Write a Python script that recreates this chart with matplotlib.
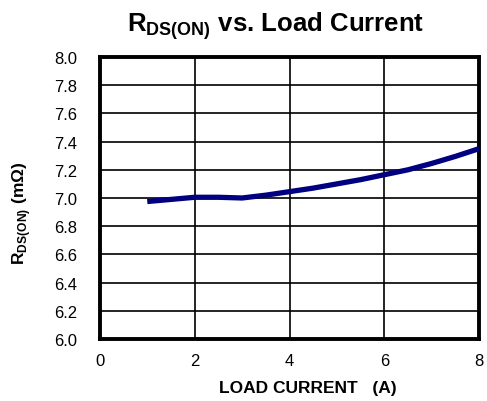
import matplotlib
matplotlib.use("Agg")
import matplotlib.pyplot as plt

plt.rcParams['font.family'] = ['Liberation Sans', 'DejaVu Sans']
plt.rcParams['mathtext.fontset'] = 'custom'
plt.rcParams['mathtext.rm'] = 'Liberation Sans'
plt.rcParams['mathtext.bf'] = 'Liberation Sans:bold'

# data
load_current = [1, 1.5, 2, 2.5, 3, 3.5, 4, 4.5, 5, 5.5, 6, 6.5, 7, 7.5, 8]
rds_on = [6.975, 6.99, 7.005, 7.005, 7.0, 7.02, 7.045, 7.07, 7.10,
          7.13, 7.165, 7.20, 7.245, 7.295, 7.35]
x_ticks = [0, 2, 4, 6, 8]
y_ticks = [6.0, 6.2, 6.4, 6.6, 6.8, 7.0, 7.2, 7.4, 7.6, 7.8, 8.0]

fig = plt.figure(figsize=(4.87, 4.02), dpi=100)
ax = fig.add_axes([0.205, 0.154, 0.779, 0.702])

ax.plot(load_current, rds_on, color='#000080', linewidth=3.8,
        solid_capstyle='butt', zorder=3)

ax.set_xlim(0, 8)
ax.set_ylim(6.0, 8.0)
ax.set_xticks(x_ticks)
ax.set_yticks(y_ticks)
ax.set_xticklabels([str(v) for v in x_ticks])
ax.set_yticklabels([f'{v:.1f}' for v in y_ticks])
ax.tick_params(axis='y', length=0, labelsize=12, pad=16)
ax.tick_params(axis='x', length=0, labelsize=12, pad=10)

ax.grid(True, color='black', linewidth=1.2)
for s in ax.spines.values():
    s.set_linewidth(2.8)

ax.set_xlabel('LOAD CURRENT   (A)', fontsize=12.5, fontweight='bold')
ax.xaxis.set_label_coords(0.547, -0.145)
ax.set_ylabel(r'R$_{\mathbf{DS(ON)}}$ (m$\mathbf{\Omega}$)', fontsize=12.5,
              fontweight='bold')
ax.yaxis.set_label_coords(-0.177, 0.45)
fig.suptitle(r'R$_{\mathbf{DS(ON)}}$ vs. Load Current', fontsize=18.5,
             fontweight='bold', x=0.565, y=0.975)

fig.savefig('out.png', dpi=100)
